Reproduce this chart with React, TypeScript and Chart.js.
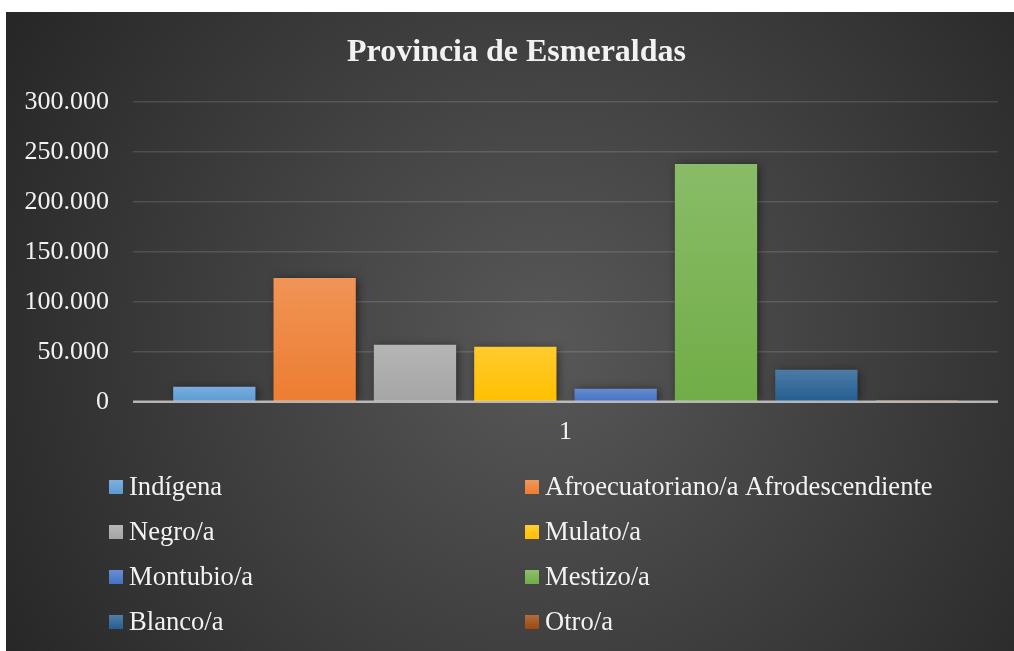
import React, { useEffect, useRef } from "react";
import { Chart, registerables } from "chart.js";

Chart.register(...registerables);

const chartTitle = "Provincia de Esmeraldas";
const categories = ["1"];
const seriesNames = [
  "Indígena",
  "Afroecuatoriano/a Afrodescendiente",
  "Negro/a",
  "Mulato/a",
  "Montubio/a",
  "Mestizo/a",
  "Blanco/a",
  "Otro/a",
];
const seriesValues = [15000, 124000, 57000, 55000, 13000, 238000, 32000, 1500];
const seriesColors = ["#5B9BD5", "#ED7D31", "#A5A5A5", "#FFC000", "#4472C4", "#70AD47", "#255E91", "#9E480E"];
const yMin = 0;
const yMax = 300000;
const yStep = 50000;

const FONT = "'Liberation Serif', 'Times New Roman', serif";

function lighten(hex: string, amt: number) {
  const n = parseInt(hex.slice(1), 16);
  const r = (n >> 16) & 255, g = (n >> 8) & 255, b = n & 255;
  const f = (c: number) => Math.round(c + (255 - c) * amt);
  return `rgb(${f(r)},${f(g)},${f(b)})`;
}

function formatThousands(v: number) {
  return String(Math.round(v)).replace(/\B(?=(\d{3})+(?!\d))/g, ".");
}

const shadowPlugin = {
  id: "barShadow",
  beforeDatasetsDraw(chart: any) {
    const ctx = chart.ctx;
    ctx.save();
    ctx.shadowColor = "rgba(0,0,0,0.55)";
    ctx.shadowBlur = 9;
    ctx.shadowOffsetX = 2;
    ctx.shadowOffsetY = 1;
  },
  afterDatasetsDraw(chart: any) {
    const ctx = chart.ctx;
    ctx.restore();
    const y = chart.scales.y;
    const base = y.getPixelForValue(0);
    const { left, right } = chart.chartArea;
    ctx.save();
    ctx.strokeStyle = "rgba(217,217,217,0.75)";
    ctx.lineWidth = 2.5;
    ctx.beginPath();
    ctx.moveTo(left, base);
    ctx.lineTo(right, base);
    ctx.stroke();
    ctx.restore();
  },
};

const titleAndLegendPlugin = {
  id: "titleAndLegend",
  afterDraw(chart: any) {
    const ctx = chart.ctx;
    ctx.save();
    ctx.fillStyle = "#f2f2f2";
    ctx.font = `bold 32px ${FONT}`;
    ctx.textAlign = "center";
    ctx.textBaseline = "middle";
    ctx.fillText(chartTitle, chart.width / 2, 41);

    const colX = [103, 519];
    const rowY = [475, 520, 565, 610];
    const sq = 14;
    ctx.font = `26.6px ${FONT}`;
    ctx.textBaseline = "middle";
    ctx.textAlign = "left";
    seriesNames.forEach((name, i) => {
      const cx = colX[i % 2];
      const cy = rowY[Math.floor(i / 2)];
      const g = ctx.createLinearGradient(0, cy - sq / 2, 0, cy + sq / 2);
      g.addColorStop(0, lighten(seriesColors[i], 0.2));
      g.addColorStop(1, seriesColors[i]);
      ctx.fillStyle = g;
      ctx.fillRect(cx, cy - sq / 2, sq, sq);
      ctx.fillStyle = "#f2f2f2";
      ctx.fillText(name, cx + sq + 6, cy + 1);
    });
    ctx.restore();
  },
};

export default function App() {
  const ref = useRef<HTMLCanvasElement | null>(null);

  useEffect(() => {
    if (!ref.current) return;
    const datasets = seriesNames.map((name, i) => ({
      label: name,
      data: [seriesValues[i]],
      backgroundColor: (c: any) => {
        const chart = c.chart;
        const y = chart.scales && chart.scales.y;
        if (!y || c.type !== "data") return seriesColors[i];
        const top = y.getPixelForValue(c.raw);
        const base = y.getPixelForValue(0);
        if (!isFinite(top) || !isFinite(base) || base - top < 0.5) return seriesColors[i];
        const g = chart.ctx.createLinearGradient(0, top, 0, base);
        g.addColorStop(0, lighten(seriesColors[i], 0.18));
        g.addColorStop(1, seriesColors[i]);
        return g;
      },
      borderWidth: 0,
      categoryPercentage: 0.928,
      barPercentage: 0.82,
    }));

    const chart = new Chart(ref.current, {
      type: "bar",
      data: { labels: categories, datasets },
      options: {
        responsive: false,
        animation: false,
        layout: { padding: { left: 18, right: 29, top: 90, bottom: 188 } },
        plugins: {
          legend: { display: false },
          tooltip: { enabled: false },
          title: { display: false },
        },
        scales: {
          x: {
            grid: { display: false, drawTicks: false },
            border: { display: false },
            ticks: { color: "#f2f2f2", font: { family: FONT, size: 26 }, padding: 15 },
          },
          y: {
            min: yMin,
            max: yMax,
            grid: { color: "rgba(255,255,255,0.13)", lineWidth: 1.5, drawTicks: false },
            border: { display: false },
            afterFit: (scale: any) => {
              scale.width = 109;
            },
            ticks: {
              stepSize: yStep,
              color: "#f2f2f2",
              font: { family: FONT, size: 26 },
              padding: 24,
              callback: (v: any) => formatThousands(Number(v)),
            },
          },
        },
      },
      plugins: [shadowPlugin, titleAndLegendPlugin],
    });
    return () => chart.destroy();
  }, []);

  return (
    <div
      style={{
        position: "fixed",
        left: 6,
        top: 12,
        width: 1021,
        height: 639,
        background: "radial-gradient(circle farthest-corner at 53% 52%, #585858 0%, #262626 100%)",
      }}
    >
      <canvas ref={ref} width={1021} height={639} style={{ display: "block" }} />
    </div>
  );
}
